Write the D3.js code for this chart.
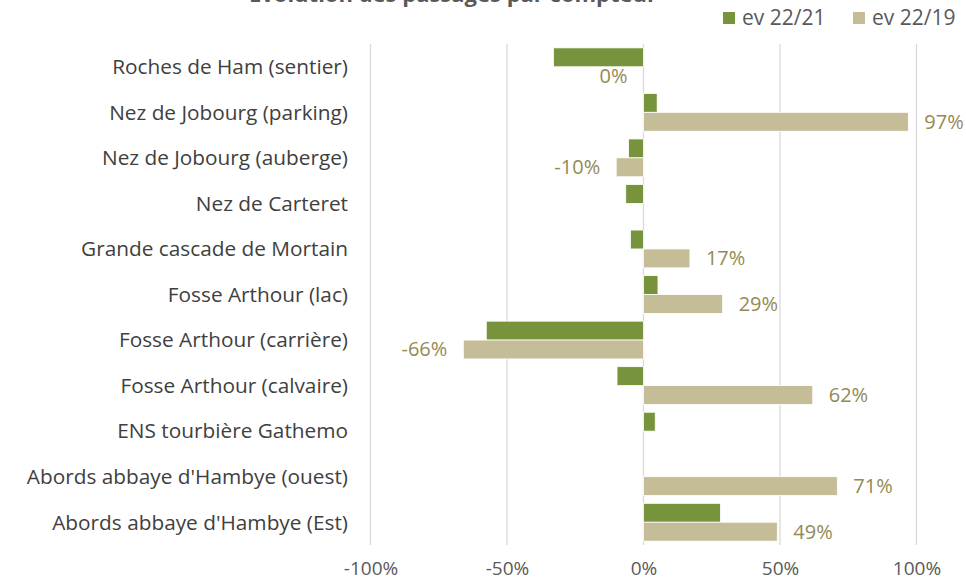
<!DOCTYPE html>
<html><head><meta charset="utf-8">
<script src="https://cdn.jsdelivr.net/npm/d3@7"></script>
<style>body{margin:0;background:#fff}svg{display:block}text{font-family:"Open Sans",sans-serif}</style>
</head><body><svg id="c" width="966" height="580"></svg>
<script>
const title = "Évolution des passages par compteur";
const categories = ["Roches de Ham (sentier)","Nez de Jobourg (parking)","Nez de Jobourg (auberge)","Nez de Carteret","Grande cascade de Mortain","Fosse Arthour (lac)","Fosse Arthour (carrière)","Fosse Arthour (calvaire)","ENS tourbière Gathemo","Abords abbaye d'Hambye (ouest)","Abords abbaye d'Hambye (Est)"];
const seriesNames = ["ev 22/21","ev 22/19"];
const ev2221 = [-0.33,0.05,-0.055,-0.065,-0.048,0.053,-0.576,-0.097,0.043,0,0.282];
const ev2219 = [0,0.97,-0.10,null,0.17,0.29,-0.66,0.62,null,0.71,0.49];
const xTicks = [-1,-0.5,0,0.5,1];
const colors = ["#77933c","#c4bd97"];

const pct = v => Math.round(v*100) + "%";
const svg = d3.select("#c");
const x = d3.scaleLinear().domain([-1,1]).range([370.5,916.5]);
const y = d3.scaleBand().domain(categories).range([44,545]).paddingInner(0.17).paddingOuter(0.085);
const ys = d3.scaleBand().domain(seriesNames).range([0,y.bandwidth()]);

// title (cut at top as in the reference)
svg.append("text").attr("x",453).attr("y",1.5).attr("text-anchor","middle")
  .attr("font-size",22).attr("font-weight","bold").attr("fill","#595959").text(title);

// gridlines
svg.append("g").selectAll("line").data(xTicks).join("line")
  .attr("x1",d=>x(d)).attr("x2",d=>x(d)).attr("y1",44).attr("y2",545)
  .attr("stroke","#d9d9d9").attr("stroke-width",1.3);

// x axis labels
const xa = svg.append("g").attr("transform","translate(0,558)")
  .call(d3.axisBottom(x).tickValues(xTicks).tickFormat(pct).tickSize(0));
xa.select(".domain").remove();
xa.selectAll("text").attr("font-size",19).attr("fill","#595959").attr("font-family","Open Sans");

// category labels
svg.append("g").selectAll("text").data(categories).join("text")
  .attr("x",348).attr("y",d=>y(d)+y.bandwidth()/2).attr("dy","0.35em")
  .attr("text-anchor","end").attr("font-size",20.8).attr("fill","#404040").text(d=>d);

const series = [ev2221, ev2219];
series.forEach((vals,si)=>{
  const g = svg.append("g");
  const data = categories.map((c,i)=>({c,v:vals[i]})).filter(d=>d.v!==null);
  g.selectAll("rect").data(data).join("rect")
    .attr("x",d=>x(Math.min(0,d.v))).attr("width",d=>Math.abs(x(d.v)-x(0)))
    .attr("y",d=>y(d.c)+ys(seriesNames[si])).attr("height",ys.bandwidth())
    .attr("fill",colors[si]).attr("stroke","#fff").attr("stroke-width",0.8);
});

// data labels for ev 22/19
const lab = categories.map((c,i)=>({c,v:ev2219[i]})).filter(d=>d.v!==null);
svg.append("g").selectAll("text").data(lab).join("text")
  .attr("x",d=>d.v>0 ? x(d.v)+16 : x(d.v)-16)
  .attr("y",d=>y(d.c)+ys(seriesNames[1])+ys.bandwidth()/2).attr("dy","0.35em")
  .attr("text-anchor",d=>d.v>0?"start":"end")
  .attr("font-size",20).attr("fill","#948a54").text(d=>pct(d.v));

// legend
const lg = svg.append("g").attr("transform","translate(723,18)");
seriesNames.forEach((s,i)=>{
  const gx = i*130;
  lg.append("rect").attr("x",gx).attr("y",-6).attr("width",12).attr("height",12).attr("fill",colors[i]);
  lg.append("text").attr("x",gx+19).attr("y",0).attr("dy","0.35em").attr("font-size",21).attr("fill","#595959").text(s);
});
</script></body></html>
